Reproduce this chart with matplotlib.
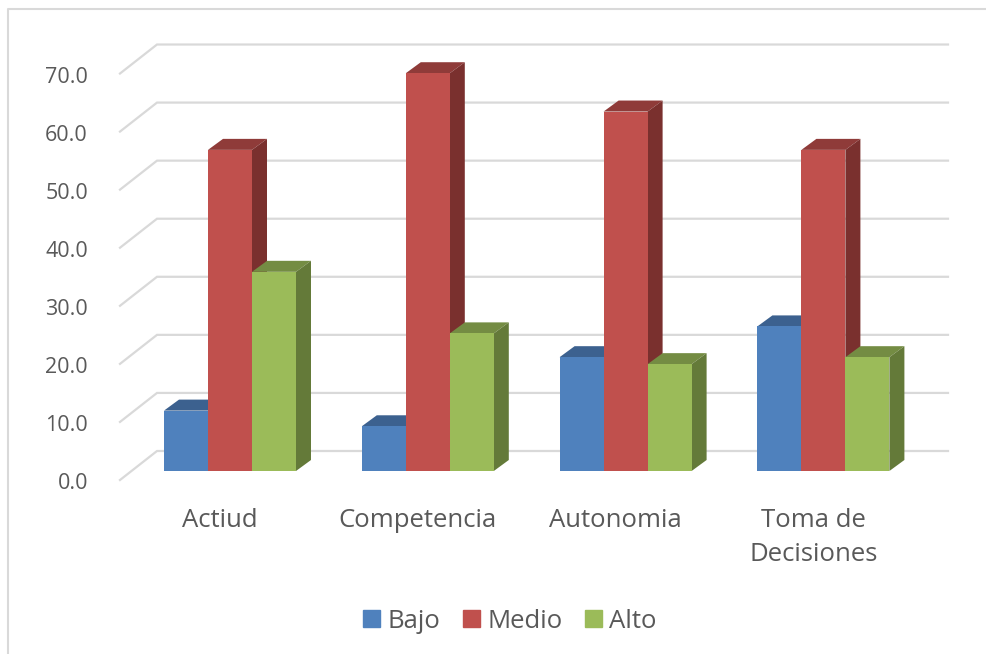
import matplotlib.pyplot as plt
import numpy as np
from matplotlib.lines import Line2D
from matplotlib.patches import Patch, Polygon

plt.rcParams['font.family'] = ['Open Sans', 'DejaVu Sans']

categories = ['Actiud', 'Competencia', 'Autonomia', 'Toma de\nDecisiones']
series_names = ['Bajo', 'Medio', 'Alto']
bajo = [10.4, 7.7, 19.6, 24.9]
medio = [55.3, 68.5, 61.9, 55.3]
alto = [34.3, 23.7, 18.4, 19.6]
y_ticks = [0, 10, 20, 30, 40, 50, 60, 70]

front_colors = ['#4F81BD', '#C0504D', '#9BBB59']
top_colors = ['#3C618F', '#8F3B39', '#748C43']
side_colors = ['#325078', '#7A302E', '#647A39']
grid_color = '#D9D9D9'
text_color = '#595959'

W, H = 987, 654
PX_X = 197.8     # pixels per category
PX_Y = 5.807     # pixels per value unit
X0, Y0 = 230, 471  # pixel position of first category centre, value 0

fig = plt.figure(figsize=(W / 100, H / 100), dpi=100)
ax = fig.add_axes([0, 0, 1, 1])
ax.set_xlim(-X0 / PX_X, (W - X0) / PX_X)
ax.set_ylim((Y0 - H) / PX_Y, Y0 / PX_Y)
ax.axis('off')

bar_w = 44 / PX_X
bar_dx, bar_dy = 15 / PX_X, 11 / PX_Y

# walls: front edge, back edge, right end of each gridline
left_x, back_x, right_x = (120 - X0) / PX_X, (157 - X0) / PX_X, (948 - X0) / PX_X
front_off, back_off = -9 / PX_Y, 20 / PX_Y
for t in y_ticks:
    ax.plot([left_x, back_x, right_x], [t + front_off, t + back_off, t + back_off],
            color=grid_color, lw=1.6, solid_joinstyle='miter', zorder=1)
    ax.text((88 - X0) / PX_X, t + front_off - 0.65, f'{t:.1f}', ha='right', va='center',
            fontsize=15.5, color=text_color)

x = np.arange(len(categories))
for i, vals in enumerate([bajo, medio, alto]):
    for xc, v in zip(x, vals):
        x0 = xc + (i - 1) * bar_w - bar_w / 2
        x1 = x0 + bar_w
        ax.bar(x0, v, bar_w, align='edge', color=front_colors[i], zorder=3 + xc * 3 + i * 3)
        ax.add_patch(Polygon([(x0, v), (x1, v), (x1 + bar_dx, v + bar_dy), (x0 + bar_dx, v + bar_dy)],
                             closed=True, color=top_colors[i], lw=0, zorder=2 + xc * 3 + i * 3))
        ax.add_patch(Polygon([(x1, 0), (x1 + bar_dx, bar_dy), (x1 + bar_dx, v + bar_dy), (x1, v)],
                             closed=True, color=side_colors[i], lw=0, zorder=2 + xc * 3 + i * 3))

for xc, name in zip(x, categories):
    ax.text(xc - 0.05, (Y0 - 508) / PX_Y, name, ha='center', va='top', fontsize=18.5,
            color=text_color, linespacing=1.48)

handles = [Patch(color=c, label=n) for c, n in zip(front_colors, series_names)]
fig.legend(handles=handles, loc='center', bbox_to_anchor=(510 / W, 1 - 621 / H), ncols=3,
           frameon=False, fontsize=18.5, labelcolor=text_color, handlelength=0.66, handleheight=0.66,
           handletextpad=0.27, columnspacing=0.9)

# chart frame, only left and top show in the crop
fig.add_artist(Line2D([8.5 / W, 8.5 / W, 1], [0, 1 - 8.5 / H, 1 - 8.5 / H], color=grid_color, lw=1.5))

fig.savefig('out.png', dpi=100)
